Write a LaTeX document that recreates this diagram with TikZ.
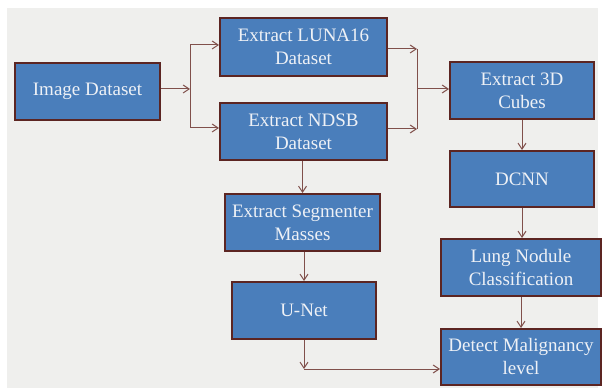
\documentclass[tikz,border=0pt]{standalone}
\usepackage{fontspec}
\setmainfont{Liberation Serif}
\usetikzlibrary{arrows.meta}
\definecolor{boxfill}{HTML}{4A7EBB}
\definecolor{boxline}{HTML}{5C2522}
\definecolor{arrcol}{HTML}{80504B}
\definecolor{bggray}{HTML}{EFEFED}
\definecolor{txtcol}{HTML}{EEF1F6}
\tikzset{
  stepbox/.style={draw=boxline, line width=2pt, fill=boxfill, text=txtcol,
    align=center, inner sep=0pt, font=\fontsize{19}{23}\selectfont},
  arr/.style={draw=arrcol, line width=1pt, -{Straight Barb[length=6pt,width=8pt]}},
  ln/.style={draw=arrcol, line width=1pt}
}
\begin{document}
\begin{tikzpicture}[x=1pt,y=-1pt]
\useasboundingbox (0,0) rectangle (603,390);
\fill[white] (0,0) rectangle (603,390);
\fill[bggray] (7,8) rectangle (598,388);
\node[stepbox, minimum width=145pt, minimum height=57pt] (img) at (87.5,91.5) {Image Dataset};
\node[stepbox, minimum width=167pt, minimum height=58pt] (luna) at (303.5,47) {Extract LUNA16\\Dataset};
\node[stepbox, minimum width=167pt, minimum height=57pt] (ndsb) at (303.5,131.5) {Extract NDSB\\Dataset};
\node[stepbox, minimum width=144pt, minimum height=57pt] (cube) at (522,90.5) {Extract 3D\\Cubes};
\node[stepbox, minimum width=144pt, minimum height=56pt] (dcnn) at (522,179) {DCNN};
\node[stepbox, minimum width=155pt, minimum height=57pt] (seg) at (302.5,222.5) {Extract Segmenter\\Masses};
\node[stepbox, minimum width=144pt, minimum height=57pt] (unet) at (304,310.5) {U-Net};
\node[stepbox, minimum width=160pt, minimum height=57pt] (lung) at (521,267.5) {Lung Nodule\\Classification};
\node[stepbox, minimum width=160pt, minimum height=56pt] (det) at (521,357) {Detect Malignancy\\level};
% left bracket
\coordinate (b1) at (190,89);
\coordinate (b1t) at (190,45);
\coordinate (b1b) at (190,128);
\draw[arr] (img.east |- b1) -- (b1);
\draw[ln] (b1t) -- (b1b);
\draw[arr] (b1t) -- (b1t -| luna.west);
\draw[arr] (b1b) -- (b1b -| ndsb.west);
% right bracket
\coordinate (b2) at (417,89);
\coordinate (b2t) at (417,49);
\coordinate (b2b) at (417,129);
\draw[arr] (b2t -| luna.east) -- (b2t);
\draw[arr] (b2b -| ndsb.east) -- (b2b);
\draw[ln] (b2t) -- (b2b);
\draw[arr] (b2) -- (b2 -| cube.west);
% verticals
\draw[arr] (cube.south) -- (dcnn.north);
\draw[arr] (dcnn.south) -- (lung.north -| dcnn.south);
\draw[arr] (lung.south) -- (det.north);
\draw[arr] (ndsb.south -| seg.north) -- (seg.north);
\draw[arr] (seg.south -| unet.north) -- (unet.north);
\coordinate (c1) at (304,369);
\draw[arr] (unet.south) -- (c1);
\draw[arr] (c1) -- (c1 -| det.west);
\end{tikzpicture}
\end{document}
